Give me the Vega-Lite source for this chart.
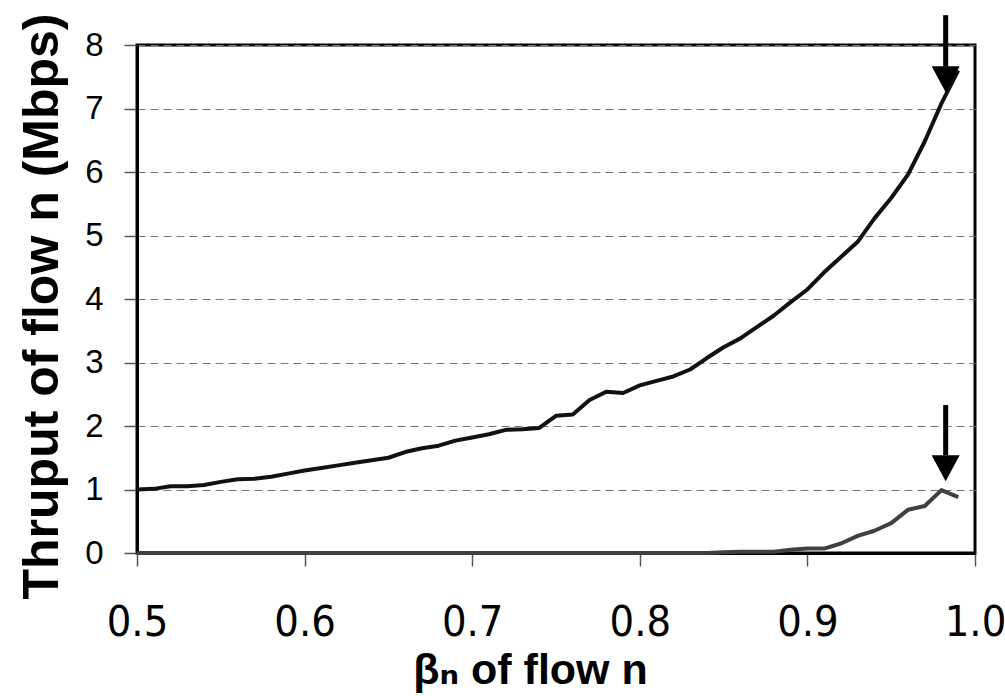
{
  "$schema": "https://vega.github.io/schema/vega-lite/v6.json",
  "width": 838,
  "height": 508,
  "autosize": {"type": "none"},
  "padding": {"left": 137, "top": 45, "right": 30, "bottom": 143},
  "background": "white",
  "config": {
    "view": {"stroke": "black", "strokeWidth": 3},
    "axis": {
      "domainColor": "black",
      "domainWidth": 3,
      "tickColor": "#555555",
      "tickWidth": 1.5,
      "tickSize": 13,
      "labelColor": "black",
      "titleColor": "black",
      "labelOverlap": false,
      "labelFlush": false,
      "labelBound": false
    }
  },
  "datasets": {
    "thruput": [
      {"beta": 0.50, "mbps": 1.00, "series": "flow n"},
      {"beta": 0.51, "mbps": 1.01, "series": "flow n"},
      {"beta": 0.52, "mbps": 1.05, "series": "flow n"},
      {"beta": 0.53, "mbps": 1.05, "series": "flow n"},
      {"beta": 0.54, "mbps": 1.07, "series": "flow n"},
      {"beta": 0.55, "mbps": 1.12, "series": "flow n"},
      {"beta": 0.56, "mbps": 1.16, "series": "flow n"},
      {"beta": 0.57, "mbps": 1.17, "series": "flow n"},
      {"beta": 0.58, "mbps": 1.20, "series": "flow n"},
      {"beta": 0.59, "mbps": 1.25, "series": "flow n"},
      {"beta": 0.60, "mbps": 1.30, "series": "flow n"},
      {"beta": 0.61, "mbps": 1.34, "series": "flow n"},
      {"beta": 0.62, "mbps": 1.38, "series": "flow n"},
      {"beta": 0.63, "mbps": 1.42, "series": "flow n"},
      {"beta": 0.64, "mbps": 1.46, "series": "flow n"},
      {"beta": 0.65, "mbps": 1.50, "series": "flow n"},
      {"beta": 0.66, "mbps": 1.59, "series": "flow n"},
      {"beta": 0.67, "mbps": 1.65, "series": "flow n"},
      {"beta": 0.68, "mbps": 1.69, "series": "flow n"},
      {"beta": 0.69, "mbps": 1.77, "series": "flow n"},
      {"beta": 0.70, "mbps": 1.82, "series": "flow n"},
      {"beta": 0.71, "mbps": 1.87, "series": "flow n"},
      {"beta": 0.72, "mbps": 1.94, "series": "flow n"},
      {"beta": 0.73, "mbps": 1.95, "series": "flow n"},
      {"beta": 0.74, "mbps": 1.97, "series": "flow n"},
      {"beta": 0.75, "mbps": 2.16, "series": "flow n"},
      {"beta": 0.76, "mbps": 2.18, "series": "flow n"},
      {"beta": 0.77, "mbps": 2.41, "series": "flow n"},
      {"beta": 0.78, "mbps": 2.54, "series": "flow n"},
      {"beta": 0.79, "mbps": 2.52, "series": "flow n"},
      {"beta": 0.80, "mbps": 2.64, "series": "flow n"},
      {"beta": 0.81, "mbps": 2.71, "series": "flow n"},
      {"beta": 0.82, "mbps": 2.78, "series": "flow n"},
      {"beta": 0.83, "mbps": 2.89, "series": "flow n"},
      {"beta": 0.84, "mbps": 3.07, "series": "flow n"},
      {"beta": 0.85, "mbps": 3.24, "series": "flow n"},
      {"beta": 0.86, "mbps": 3.38, "series": "flow n"},
      {"beta": 0.87, "mbps": 3.56, "series": "flow n"},
      {"beta": 0.88, "mbps": 3.74, "series": "flow n"},
      {"beta": 0.89, "mbps": 3.95, "series": "flow n"},
      {"beta": 0.90, "mbps": 4.15, "series": "flow n"},
      {"beta": 0.91, "mbps": 4.42, "series": "flow n"},
      {"beta": 0.92, "mbps": 4.66, "series": "flow n"},
      {"beta": 0.93, "mbps": 4.90, "series": "flow n"},
      {"beta": 0.94, "mbps": 5.27, "series": "flow n"},
      {"beta": 0.95, "mbps": 5.59, "series": "flow n"},
      {"beta": 0.96, "mbps": 5.96, "series": "flow n"},
      {"beta": 0.97, "mbps": 6.48, "series": "flow n"},
      {"beta": 0.98, "mbps": 7.08, "series": "flow n"},
      {"beta": 0.99, "mbps": 7.60, "series": "flow n"},
      {"beta": 0.50, "mbps": 0, "series": "other"},
      {"beta": 0.51, "mbps": 0, "series": "other"},
      {"beta": 0.52, "mbps": 0, "series": "other"},
      {"beta": 0.53, "mbps": 0, "series": "other"},
      {"beta": 0.54, "mbps": 0, "series": "other"},
      {"beta": 0.55, "mbps": 0, "series": "other"},
      {"beta": 0.56, "mbps": 0, "series": "other"},
      {"beta": 0.57, "mbps": 0, "series": "other"},
      {"beta": 0.58, "mbps": 0, "series": "other"},
      {"beta": 0.59, "mbps": 0, "series": "other"},
      {"beta": 0.60, "mbps": 0, "series": "other"},
      {"beta": 0.61, "mbps": 0, "series": "other"},
      {"beta": 0.62, "mbps": 0, "series": "other"},
      {"beta": 0.63, "mbps": 0, "series": "other"},
      {"beta": 0.64, "mbps": 0, "series": "other"},
      {"beta": 0.65, "mbps": 0, "series": "other"},
      {"beta": 0.66, "mbps": 0, "series": "other"},
      {"beta": 0.67, "mbps": 0, "series": "other"},
      {"beta": 0.68, "mbps": 0, "series": "other"},
      {"beta": 0.69, "mbps": 0, "series": "other"},
      {"beta": 0.70, "mbps": 0, "series": "other"},
      {"beta": 0.71, "mbps": 0, "series": "other"},
      {"beta": 0.72, "mbps": 0, "series": "other"},
      {"beta": 0.73, "mbps": 0, "series": "other"},
      {"beta": 0.74, "mbps": 0, "series": "other"},
      {"beta": 0.75, "mbps": 0, "series": "other"},
      {"beta": 0.76, "mbps": 0, "series": "other"},
      {"beta": 0.77, "mbps": 0, "series": "other"},
      {"beta": 0.78, "mbps": 0, "series": "other"},
      {"beta": 0.79, "mbps": 0, "series": "other"},
      {"beta": 0.80, "mbps": 0, "series": "other"},
      {"beta": 0.81, "mbps": 0, "series": "other"},
      {"beta": 0.82, "mbps": 0, "series": "other"},
      {"beta": 0.83, "mbps": 0, "series": "other"},
      {"beta": 0.84, "mbps": 0, "series": "other"},
      {"beta": 0.85, "mbps": 0.01, "series": "other"},
      {"beta": 0.86, "mbps": 0.02, "series": "other"},
      {"beta": 0.87, "mbps": 0.02, "series": "other"},
      {"beta": 0.88, "mbps": 0.02, "series": "other"},
      {"beta": 0.89, "mbps": 0.05, "series": "other"},
      {"beta": 0.90, "mbps": 0.07, "series": "other"},
      {"beta": 0.91, "mbps": 0.07, "series": "other"},
      {"beta": 0.92, "mbps": 0.15, "series": "other"},
      {"beta": 0.93, "mbps": 0.27, "series": "other"},
      {"beta": 0.94, "mbps": 0.35, "series": "other"},
      {"beta": 0.95, "mbps": 0.47, "series": "other"},
      {"beta": 0.96, "mbps": 0.68, "series": "other"},
      {"beta": 0.97, "mbps": 0.74, "series": "other"},
      {"beta": 0.98, "mbps": 0.99, "series": "other"},
      {"beta": 0.99, "mbps": 0.88, "series": "other"}
    ],
    "arrows": [
      {"beta": 0.9825, "shaftTop": 8.47, "headTop": 7.66, "headMid": 7.46},
      {"beta": 0.9825, "shaftTop": 2.33, "headTop": 1.54, "headMid": 1.335}
    ]
  },
  "layer": [
    {
      "data": {"name": "thruput"},
      "mark": {"type": "line", "strokeWidth": 4, "strokeJoin": "round"},
      "encoding": {
        "x": {
          "field": "beta",
          "type": "quantitative",
          "scale": {"domain": [0.5, 1.0], "nice": false, "zero": false},
          "axis": {
            "values": [0.5, 0.6, 0.7, 0.8, 0.9, 1.0],
            "format": ".1f",
            "grid": false,
            "labelFont": "Liberation Sans Narrow, DejaVu Sans Condensed, sans-serif",
            "labelFontSize": 43,
            "labelPadding": 35,
            "title": "βₙ of flow n",
            "titleFont": "Liberation Sans, DejaVu Sans, sans-serif",
            "titleFontWeight": "bold",
            "titleFontSize": 43,
            "titleX": 393,
            "titleY": 130,
            "titleBaseline": "alphabetic"
          }
        },
        "y": {
          "field": "mbps",
          "type": "quantitative",
          "scale": {"domain": [0, 8], "nice": false},
          "axis": {
            "values": [0, 1, 2, 3, 4, 5, 6, 7, 8],
            "format": "d",
            "grid": true,
            "gridDash": [8, 5],
            "gridColor": "#777777",
            "gridWidth": 1,
            "labelFont": "Liberation Sans, sans-serif",
            "labelFontSize": 33,
            "labelPadding": 21,
            "title": "Thruput of flow n (Mbps)",
            "titleFont": "Liberation Sans, DejaVu Sans, sans-serif",
            "titleFontWeight": "bold",
            "titleFontSize": 50,
            "titleX": -80,
            "titleY": 261,
            "titleBaseline": "alphabetic"
          }
        },
        "color": {
          "field": "series",
          "type": "nominal",
          "scale": {"domain": ["flow n", "other"], "range": ["#111111", "#404040"]},
          "legend": null
        }
      }
    },
    {
      "data": {"name": "arrows"},
      "mark": {"type": "rule", "strokeWidth": 5, "color": "black"},
      "encoding": {
        "x": {"field": "beta", "type": "quantitative"},
        "y": {"field": "shaftTop", "type": "quantitative"},
        "y2": {"field": "headTop"}
      }
    },
    {
      "data": {"name": "arrows"},
      "mark": {
        "type": "point",
        "shape": "M -1 -0.93 L 1 -0.93 L 0 0.93 Z",
        "size": 784,
        "filled": true,
        "color": "black",
        "opacity": 1
      },
      "encoding": {
        "x": {"field": "beta", "type": "quantitative"},
        "y": {"field": "headMid", "type": "quantitative"}
      }
    }
  ]
}
